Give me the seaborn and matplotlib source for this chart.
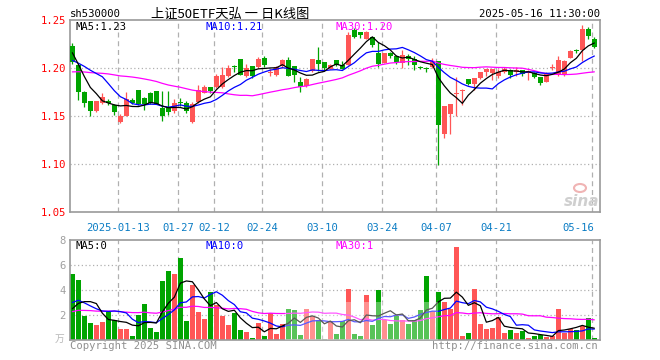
import numpy as np
import pandas as pd
import matplotlib
matplotlib.use("Agg")
import matplotlib.pyplot as plt
from matplotlib.patches import Ellipse
import seaborn as sns

# ---------------- data ----------------
open_ = [1.2229, 1.2035, 1.1750, 1.1656, 1.1552, 1.1636, 1.1653, 1.1618, 1.1438, 1.1500,
         1.1663, 1.1767, 1.1690, 1.1740, 1.1757, 1.1580, 1.1594, 1.1550, 1.1642, 1.1636,
         1.1438, 1.1650, 1.1743, 1.1802, 1.1800, 1.1800, 1.1917, 1.2020, 1.2090, 1.1920,
         1.2020, 1.2010, 1.2100, 1.1950, 1.1930, 1.2020, 1.2085, 1.2020, 1.1855, 1.1810,
         1.1965, 1.2080, 1.2060, 1.1990, 1.2080, 1.2035, 1.2035, 1.2400, 1.2375, 1.2305,
         1.2320, 1.2156, 1.2055, 1.2156, 1.2130, 1.2055, 1.2130, 1.2090, 1.2010, 1.1995,
         1.2010, 1.2070, 1.1316, 1.1524, 1.1733, 1.1757, 1.1890, 1.1837, 1.1896, 1.1958,
         1.1948, 1.1913, 1.1958, 1.1980, 1.1958, 1.1976, 1.1948, 1.1950, 1.1906, 1.1855,
         1.2000, 1.1930, 1.1924, 1.2104, 1.2180, 1.2184, 1.2403, 1.2299]
close = [1.2066, 1.1750, 1.1640, 1.1552, 1.1656, 1.1694, 1.1636, 1.1540, 1.1500, 1.1680,
         1.1640, 1.1630, 1.1620, 1.1640, 1.1630, 1.1500, 1.1540, 1.1636, 1.1636, 1.1550,
         1.1620, 1.1770, 1.1802, 1.1757, 1.1917, 1.1924, 1.2000, 1.2010, 1.1930, 1.2000,
         1.1920, 1.2097, 1.2030, 1.1955, 1.2010, 1.2080, 1.1920, 1.1930, 1.1800, 1.1890,
         1.2090, 1.2045, 1.2000, 1.2035, 1.2035, 1.1993, 1.2340, 1.2320, 1.2347, 1.2375,
         1.2240, 1.2045, 1.2156, 1.2120, 1.2060, 1.2140, 1.2090, 1.2035, 1.2000, 1.1985,
         1.2070, 1.1410, 1.1604, 1.1628, 1.1743, 1.1775, 1.1837, 1.1896, 1.1958, 1.1986,
         1.1986, 1.1958, 1.1993, 1.1930, 1.1976, 1.1940, 1.1965, 1.1906, 1.1847, 1.1941,
         1.2010, 1.2080, 1.2070, 1.2173, 1.2174, 1.2403, 1.2333, 1.2219]
high = [1.2264, 1.2040, 1.1760, 1.1660, 1.1660, 1.1740, 1.1680, 1.1625, 1.1525, 1.1750,
        1.1690, 1.1767, 1.1700, 1.1750, 1.1760, 1.1760, 1.1760, 1.1680, 1.1690, 1.1660,
        1.1650, 1.1826, 1.1820, 1.1805, 1.1940, 1.2010, 1.2028, 1.2035, 1.2090, 1.2040,
        1.2025, 1.2115, 1.2130, 1.1985, 1.2025, 1.2090, 1.2115, 1.2025, 1.1905, 1.1900,
        1.2097, 1.2220, 1.2060, 1.2045, 1.2085, 1.2070, 1.2380, 1.2415, 1.2378, 1.2390,
        1.2325, 1.2270, 1.2160, 1.2165, 1.2135, 1.2185, 1.2145, 1.2130, 1.2025, 1.2010,
        1.2105, 1.2070, 1.1604, 1.1630, 1.1906, 1.1785, 1.1890, 1.1896, 1.1960, 1.1993,
        1.1990, 1.1993, 1.2010, 1.1985, 1.2010, 1.1980, 1.1975, 1.1955, 1.1910, 1.1958,
        1.2040, 1.2120, 1.2080, 1.2190, 1.2200, 1.2444, 1.2430, 1.2320]
low = [1.2040, 1.1663, 1.1590, 1.1500, 1.1545, 1.1620, 1.1610, 1.1515, 1.1428, 1.1495,
       1.1620, 1.1610, 1.1560, 1.1620, 1.1625, 1.1450, 1.1510, 1.1530, 1.1600, 1.1535,
       1.1430, 1.1640, 1.1740, 1.1740, 1.1795, 1.1790, 1.1905, 1.1960, 1.1925, 1.1910,
       1.1900, 1.2005, 1.2010, 1.1920, 1.1920, 1.2000, 1.1915, 1.1850, 1.1750, 1.1800,
       1.1960, 1.1965, 1.1980, 1.1985, 1.2020, 1.1985, 1.2030, 1.2310, 1.2310, 1.2300,
       1.2220, 1.2010, 1.2050, 1.2105, 1.2045, 1.2000, 1.2035, 1.1975, 1.1990, 1.1960,
       1.1995, 1.0993, 1.1270, 1.1316, 1.1500, 1.1611, 1.1820, 1.1767, 1.1890, 1.1920,
       1.1870, 1.1900, 1.1950, 1.1900, 1.1920, 1.1920, 1.1880, 1.1895, 1.1826, 1.1850,
       1.1980, 1.1920, 1.1920, 1.2100, 1.2160, 1.2070, 1.2299, 1.2210]
volume = [5.30, 4.80, 1.92, 1.36, 1.20, 1.44, 2.27, 1.60, 0.88, 0.88,
          0.32, 2.00, 2.88, 0.96, 0.64, 4.72, 5.52, 5.30, 6.56, 1.52,
          4.40, 2.27, 1.68, 3.84, 2.80, 1.92, 1.20, 2.16, 0.80, 0.64,
          0.16, 1.36, 0.32, 2.16, 0.48, 1.28, 2.48, 2.40, 0.40, 2.48,
          1.90, 1.60, 0.10, 1.50, 0.50, 1.50, 4.10, 0.50, 0.30, 3.60,
          1.20, 4.00, 1.60, 1.30, 1.90, 1.60, 1.30, 1.60, 2.40, 5.10,
          2.30, 3.84, 3.04, 2.48, 7.47, 0.32, 0.56, 4.08, 1.28, 0.88,
          0.96, 1.84, 0.56, 0.80, 0.56, 0.72, 0.16, 0.32, 0.40, 0.24,
          0.32, 2.48, 0.56, 0.88, 0.80, 1.12, 1.76, 0.16]
# estimated sessions before the window (inferred from where the MA lines start)
prior_close = [1.170, 1.172, 1.175, 1.178, 1.180, 1.182, 1.184, 1.182, 1.183, 1.184,
               1.190, 1.195, 1.200, 1.205, 1.210, 1.205, 1.200, 1.198, 1.200, 1.206,
               1.204, 1.198, 1.195, 1.200, 1.203, 1.235, 1.228, 1.212, 1.198]
prior_volume = [1.5, 2.2, 1.8, 2.5, 1.6, 2.0, 1.7, 2.3, 1.9, 1.4,
                2.1, 1.8, 2.6, 1.5, 1.9, 2.0, 1.7, 2.2, 1.6, 1.7,
                3.0, 4.0, 3.8, 3.5, 3.2, 2.65, 1.22, 1.36, 1.97]
tick_pos = [8, 18, 24, 32, 42, 52, 61, 71, 87]
tick_labels = ["2025-01-13", "01-27", "02-12", "02-24", "03-10", "03-24", "04-07", "04-21", "05-16"]
price_ticks = [1.05, 1.10, 1.15, 1.20, 1.25]
vol_ticks = [2, 4, 6, 8]

# ---------------- styling ----------------
sns.set_style("white")
plt.rcParams["font.family"] = ["DejaVu Sans Mono", "Noto Sans CJK SC"]
RED = "#ff5656"
GREEN = "#00a400"
GRID = "#b0b0b0"
BORDER = "#9a9a9a"
W, H = 660, 360

n = len(close)
idx = np.arange(n)
df = pd.DataFrame({"i": idx, "o": open_, "c": close, "h": high, "l": low, "v": volume})
up = df["c"] >= df["o"]
colors = np.where(up, RED, GREEN)

call = pd.Series(prior_close + close)
vall = pd.Series(prior_volume + volume)
k = len(prior_close)
for w in (5, 10, 30):
    df[f"ma{w}"] = call.rolling(w).mean().iloc[k:].values
    df[f"vma{w}"] = vall.rolling(w).mean().iloc[k:].values

fig = plt.figure(figsize=(W / 100, H / 100), dpi=100)

def axes_px(x0, y0, x1, y1):
    return fig.add_axes([x0 / W, 1 - y1 / H, (x1 - x0) / W, (y1 - y0) / H])

xmin = -2.35 / 6
xmax = xmin + 530 / 6
axp = axes_px(70, 20, 600, 212)
axv = axes_px(70, 240, 600, 340)

for ax in (axp, axv):
    ax.set_xlim(xmin, xmax)
    for s in ax.spines.values():
        s.set_color(BORDER)
        s.set_linewidth(1.2)
    for t in tick_pos:
        ax.axvline(t - 0.39, color=GRID, lw=0.9, ls=(0, (4, 3)), zorder=0)
    ax.set_xticks([])
    ax.tick_params(axis="y", length=0, pad=3, labelsize=7.6)

# price panel
axp.set_ylim(1.05, 1.25)
for y in (1.10, 1.15, 1.20):
    axp.axhline(y, color=GRID, lw=0.9, ls=(0, (1, 2)), zorder=0)
axp.set_yticks(price_ticks)
axp.set_yticklabels([f"{t:.2f}" for t in price_ticks], color="#ff0000")
body_bottom = np.minimum(df["o"], df["c"])
body_h = np.maximum((df["c"] - df["o"]).abs(), 0.0009)
axp.vlines(df["i"], df["l"], df["h"], colors=colors, lw=0.9, zorder=2)
axp.bar(df["i"], body_h, bottom=body_bottom, width=0.8, color=colors, linewidth=0, zorder=3)
sns.lineplot(data=df, x="i", y="ma30", color="#ff00ff", lw=0.9, ax=axp, legend=False, zorder=4)
sns.lineplot(data=df, x="i", y="ma10", color="#0000ff", lw=0.9, ax=axp, legend=False, zorder=4)
sns.lineplot(data=df, x="i", y="ma5", color="#000000", lw=0.9, ax=axp, legend=False, zorder=5)
axp.set_xlabel("")
axp.set_ylabel("")

# volume panel
axv.set_ylim(0, 8)
for y in (2, 4, 6):
    axv.axhline(y, color=GRID, lw=0.9, ls=(0, (1, 2)), zorder=0)
axv.set_yticks(vol_ticks)
axv.set_yticklabels([str(t) for t in vol_ticks], color="#a0a0a0")
axv.bar(df["i"], df["v"], width=0.8, color=colors, linewidth=0, zorder=2)
sns.lineplot(data=df, x="i", y="vma30", color="#ff00ff", lw=0.9, ax=axv, legend=False, zorder=4)
sns.lineplot(data=df, x="i", y="vma10", color="#0000ff", lw=0.9, ax=axv, legend=False, zorder=4)
sns.lineplot(data=df, x="i", y="vma5", color="#000000", lw=0.9, ax=axv, legend=False, zorder=5)
axv.set_xlabel("")
axv.set_ylabel("")

# faint watermark haze over part of the volume panel
axv.axvspan(35.5, 61.0, ymin=0.0, ymax=0.38, color="white", alpha=0.35, lw=0, zorder=6)

def txt(x, y, s, **kw):
    kw.setdefault("fontsize", 7.6)
    kw.setdefault("va", "center")
    fig.text(x / W, 1 - y / H, s, **kw)

# header
txt(70, 14, "sh530000", color="black")
txt(151, 14, "上证50ETF天弘 一 日K线图", color="black", fontsize=9.5,
    family=["Noto Sans CJK SC", "DejaVu Sans"])
txt(600, 14, "2025-05-16 11:30:00", color="black", ha="right")

# MA legends
last = df.iloc[-1]
txt(75, 27, f"MA5:{last['ma5']:.2f}", color="black")
txt(205, 27, f"MA10:{last['ma10']:.2f}", color="#0000ff")
txt(336, 27, f"MA30:{last['ma30']:.2f}", color="#ff00ff")
txt(75, 246, f"MA5:{int(last['vma5'])}", color="black")
txt(205, 246, f"MA10:{int(last['vma10'])}", color="#0000ff")
txt(336, 246, f"MA30:{int(last['vma30'])}", color="#ff00ff")

# date labels
for t, lab in zip(tick_pos, tick_labels):
    xp = 70 + 6 * t
    if t == tick_pos[-1]:
        txt(xp + 2, 228, lab, color="#0a7cc4", ha="right")
    else:
        txt(xp, 228, lab, color="#0a7cc4", ha="center")

# footer
txt(70, 346, "Copyright 2025 SINA.COM", color="#909090")
txt(598, 346, "http://finance.sina.com.cn", color="#909090", ha="right")
txt(64, 339, "万", color="#b8b8b8", ha="right", fontsize=7,
    family=["Noto Sans CJK SC", "DejaVu Sans"])

# sina logo watermark
txt(582, 201, "sina", color="#cfcfcf", ha="center", fontsize=11,
    fontweight="bold", fontstyle="italic", family=["DejaVu Sans"])
fig.add_artist(Ellipse((580 / W, 1 - 188 / H), 12 / W, 8 / H, transform=fig.transFigure,
                       facecolor="none", edgecolor="#f0b4b4", lw=1.5))

fig.savefig("out.png", dpi=100)
